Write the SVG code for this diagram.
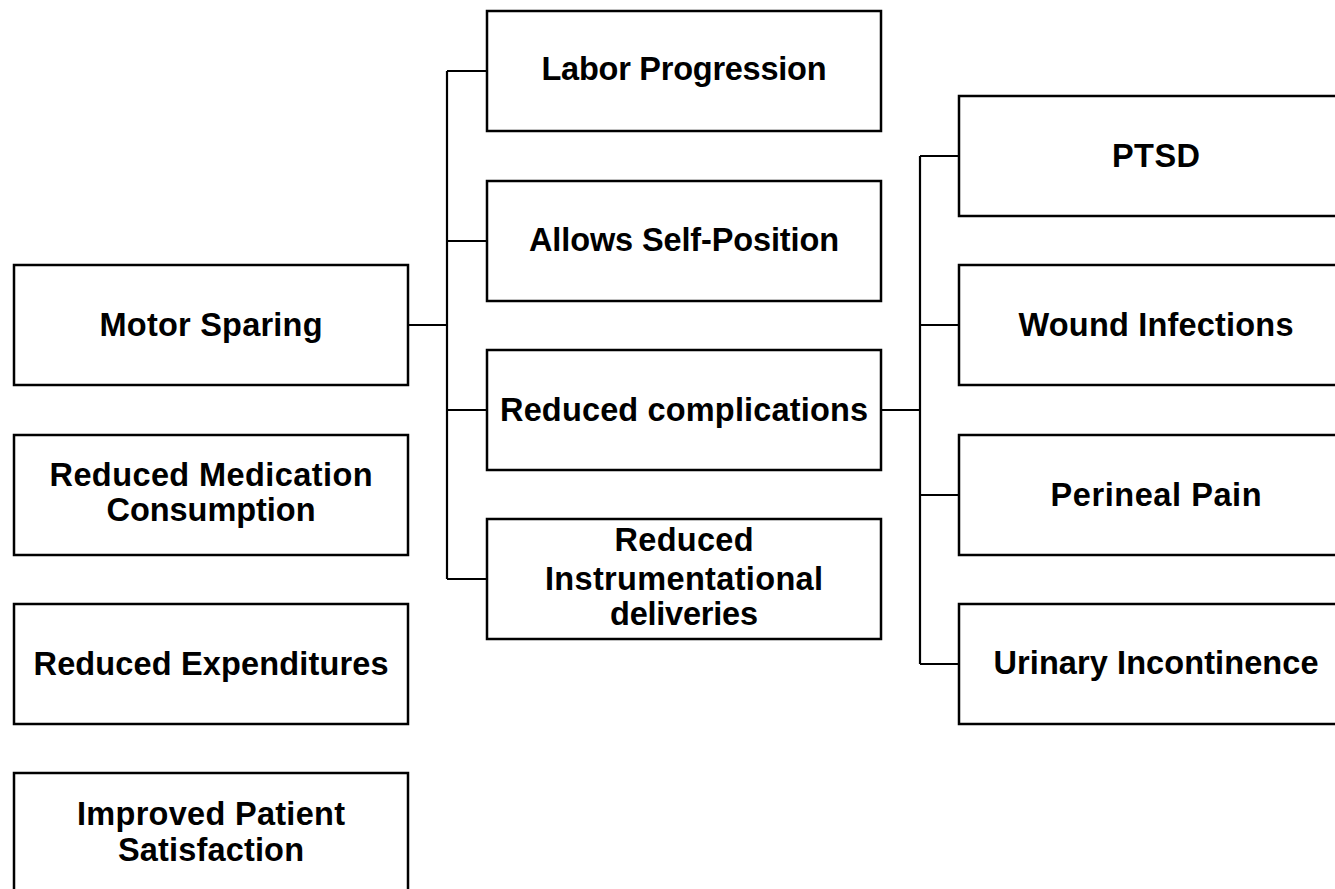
<svg xmlns="http://www.w3.org/2000/svg" width="1335" height="889" viewBox="0 0 1335 889">
<style>
.box{fill:#fff;stroke:#000;stroke-width:2.5}
.t{font-family:"Liberation Sans",Arial,sans-serif;font-weight:bold;font-size:32.5px;fill:#000;text-anchor:middle}
.c{fill:none;stroke:#000;stroke-width:2.2}
</style>
<rect width="1335" height="889" fill="#fff"/>
<g id="connectors">
<path class="c" d="M408,325H447M447,71V579M447,71H487M447,241H487M447,410H487M447,579H487"/>
<path class="c" d="M881,410H920M920,156V664M920,156H959M920,325H959M920,495H959M920,664H959"/>
</g>
<g id="motor-sparing"><rect class="box" x="14" y="265" width="394" height="120"/><text class="t" x="211" y="336" textLength="223" lengthAdjust="spacing">Motor Sparing</text></g>
<g id="reduced-medication"><rect class="box" x="14" y="435" width="394" height="120"/><text class="t" x="211" y="486" textLength="323" lengthAdjust="spacing">Reduced Medication</text><text class="t" x="211" y="521" textLength="209" lengthAdjust="spacing">Consumption</text></g>
<g id="reduced-expenditures"><rect class="box" x="14" y="604" width="394" height="120"/><text class="t" x="211" y="675" textLength="355" lengthAdjust="spacing">Reduced Expenditures</text></g>
<g id="improved-satisfaction"><rect class="box" x="14" y="773" width="394" height="120"/><text class="t" x="211" y="825" textLength="268" lengthAdjust="spacing">Improved Patient</text><text class="t" x="211" y="861" textLength="186" lengthAdjust="spacing">Satisfaction</text></g>
<g id="labor-progression"><rect class="box" x="487" y="11" width="394" height="120"/><text class="t" x="684" y="80" textLength="285" lengthAdjust="spacing">Labor Progression</text></g>
<g id="self-position"><rect class="box" x="487" y="181" width="394" height="120"/><text class="t" x="684" y="251" textLength="310" lengthAdjust="spacing">Allows Self-Position</text></g>
<g id="reduced-complications"><rect class="box" x="487" y="350" width="394" height="120"/><text class="t" x="684" y="421" textLength="368" lengthAdjust="spacing">Reduced complications</text></g>
<g id="reduced-instrumentational"><rect class="box" x="487" y="519" width="394" height="120"/><text class="t" x="684" y="551" textLength="139" lengthAdjust="spacing">Reduced</text><text class="t" x="684" y="590" textLength="278" lengthAdjust="spacing">Instrumentational</text><text class="t" x="684" y="625" textLength="148" lengthAdjust="spacing">deliveries</text></g>
<g id="ptsd"><rect class="box" x="959" y="96" width="394" height="120"/><text class="t" x="1156" y="167" textLength="88" lengthAdjust="spacing">PTSD</text></g>
<g id="wound-infections"><rect class="box" x="959" y="265" width="394" height="120"/><text class="t" x="1156" y="336" textLength="275" lengthAdjust="spacing">Wound Infections</text></g>
<g id="perineal-pain"><rect class="box" x="959" y="435" width="394" height="120"/><text class="t" x="1156" y="506" textLength="211" lengthAdjust="spacing">Perineal Pain</text></g>
<g id="urinary-incontinence"><rect class="box" x="959" y="604" width="394" height="120"/><text class="t" x="1156" y="674" textLength="325" lengthAdjust="spacing">Urinary Incontinence</text></g>
</svg>
